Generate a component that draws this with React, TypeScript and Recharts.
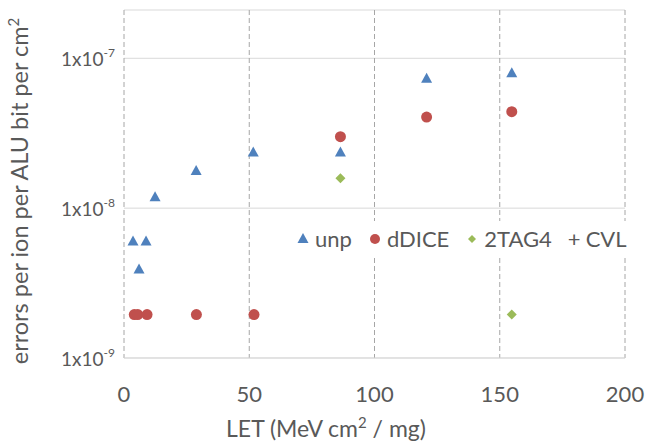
import React from 'react'
import { ScatterChart, Scatter, XAxis, YAxis, CartesianGrid, Legend, Label } from 'recharts'

// LET values (MeV cm2 / mg) and error cross sections
const unpLet = [3.6, 8.8, 6.0, 12.4, 28.8, 51.6, 86.4, 120.8, 154.8]
const unpErr = [6.0e-9, 6.0e-9, 3.9e-9, 1.18e-8, 1.77e-8, 2.35e-8, 2.35e-8, 7.3e-8, 7.95e-8]

const ddiceLet = [4.1, 5.5, 9.2, 28.9, 51.9, 86.4, 120.8, 154.8]
const ddiceErr = [1.95e-9, 1.95e-9, 1.95e-9, 1.95e-9, 1.95e-9, 3.0e-8, 4.05e-8, 4.4e-8]

const tag4Let = [86.4, 154.8]
const tag4Err = [1.58e-8, 1.95e-9]

const xTicks = [0, 50, 100, 150, 200]
const yTicks = [1e-9, 1e-8, 1e-7]

const legendNames = ['unp', 'dDICE', '2TAG4', 'CVL']

const BLUE = '#4F81BD'
const RED = '#C0504D'
const GREEN = '#9BBB59'
const TEXT = '#595959'
const FONT = 'Lato, sans-serif'

const toPoints = (xs: number[], ys: number[]) => xs.map((x, i) => ({ x, y: ys[i] }))

const Triangle = ({ cx, cy }: any) => (
    <polygon points={`${cx},${cy - 6} ${cx - 5.5},${cy + 4} ${cx + 5.5},${cy + 4}`} fill={BLUE} />
)
const Dot = ({ cx, cy }: any) => <circle cx={cx} cy={cy} r={5.5} fill={RED} />
const Diamond = ({ cx, cy }: any) => (
    <polygon points={`${cx},${cy - 5} ${cx + 5},${cy} ${cx},${cy + 5} ${cx - 5},${cy}`} fill={GREEN} />
)

const XTick = ({ x, y, payload }: any) => (
    <text x={x} y={y + 44} textAnchor="middle" fill={TEXT} fontSize={22} fontFamily={FONT}>
        {payload.value}
    </text>
)

const YTick = ({ x, y, payload }: any) => {
    const exp = Math.round(Math.log10(payload.value))
    return (
        <text x={x - 9} y={y + 8} textAnchor="end" fill={TEXT} fontSize={19} fontFamily={FONT}>
            <tspan>1x10</tspan>
            <tspan dy={-9} fontSize={12}>{exp}</tspan>
        </text>
    )
}

const markers = [
    <svg width={14} height={14} key="t"><polygon points="7,1 1.5,11 12.5,11" fill={BLUE} /></svg>,
    <svg width={14} height={14} key="c"><circle cx={7} cy={7} r={5} fill={RED} /></svg>,
    <svg width={14} height={14} key="d"><polygon points="7,3 11,7 7,11 3,7" fill={GREEN} /></svg>,
    <span key="p" style={{ fontSize: 22, color: TEXT, lineHeight: '14px' }}>+</span>,
]

const renderLegend = () => (
    <div style={{ display: 'flex', alignItems: 'center', background: '#fff', padding: '4px 6px', fontFamily: FONT, fontSize: 22, color: TEXT }}>
        {legendNames.map((name, i) => (
            <span key={name} style={{ display: 'flex', alignItems: 'center', marginRight: i < 3 ? 16 : 0 }}>
                {markers[i]}
                <span style={{ marginLeft: 5 }}>{name}</span>
            </span>
        ))}
    </div>
)

export default function App() {
    // drop the body margin so the chart can use the whole 645x441 window
    return (
        <div style={{ width: 645, height: 441 }}>
            <style>{'body { margin: 0; }'}</style>
            <ScatterChart width={645} height={441} margin={{ top: 10, right: 20, left: 0, bottom: 0 }}>
                <CartesianGrid stroke="#d9d9d9" vertical={false} />
                <CartesianGrid stroke="#a6a6a6" strokeDasharray="5 3" horizontal={false} />
                <XAxis
                    type="number"
                    dataKey="x"
                    domain={[0, 200]}
                    ticks={xTicks}
                    height={83}
                    tickSize={0}
                    tickMargin={0}
                    tickLine={false}
                    axisLine={{ stroke: '#d9d9d9' }}
                    tick={<XTick />}
                >
                    <Label
                        content={() => (
                            <text x={326} y={437} textAnchor="middle" fill={TEXT} fontSize={23} fontFamily={FONT}>
                                LET (MeV cm<tspan dy={-9} fontSize={15}>2</tspan>
                                <tspan dy={9}> / mg)</tspan>
                            </text>
                        )}
                    />
                </XAxis>
                <YAxis
                    type="number"
                    dataKey="y"
                    scale="log"
                    domain={[1e-9, 2.1e-7]}
                    allowDataOverflow
                    ticks={yTicks}
                    width={124}
                    tickSize={0}
                    tickMargin={0}
                    tickLine={false}
                    axisLine={false}
                    tick={<YTick />}
                >
                    <Label
                        content={() => (
                            <text
                                x={28}
                                y={191}
                                transform="rotate(-90 28 191)"
                                textAnchor="middle"
                                fill={TEXT}
                                fontSize={23.5}
                                fontFamily={FONT}
                            >
                                errors per ion per ALU bit per cm<tspan dy={-9} fontSize={15}>2</tspan>
                            </text>
                        )}
                    />
                </YAxis>
                <Legend
                    content={renderLegend}
                    layout="horizontal"
                    verticalAlign="middle"
                    wrapperStyle={{ top: 221, left: 290, width: 'auto' }}
                />
                <Scatter name="unp" data={toPoints(unpLet, unpErr)} shape={<Triangle />} isAnimationActive={false} />
                <Scatter name="dDICE" data={toPoints(ddiceLet, ddiceErr)} shape={<Dot />} isAnimationActive={false} />
                <Scatter name="2TAG4" data={toPoints(tag4Let, tag4Err)} shape={<Diamond />} isAnimationActive={false} />
            </ScatterChart>
        </div>
    )
}
